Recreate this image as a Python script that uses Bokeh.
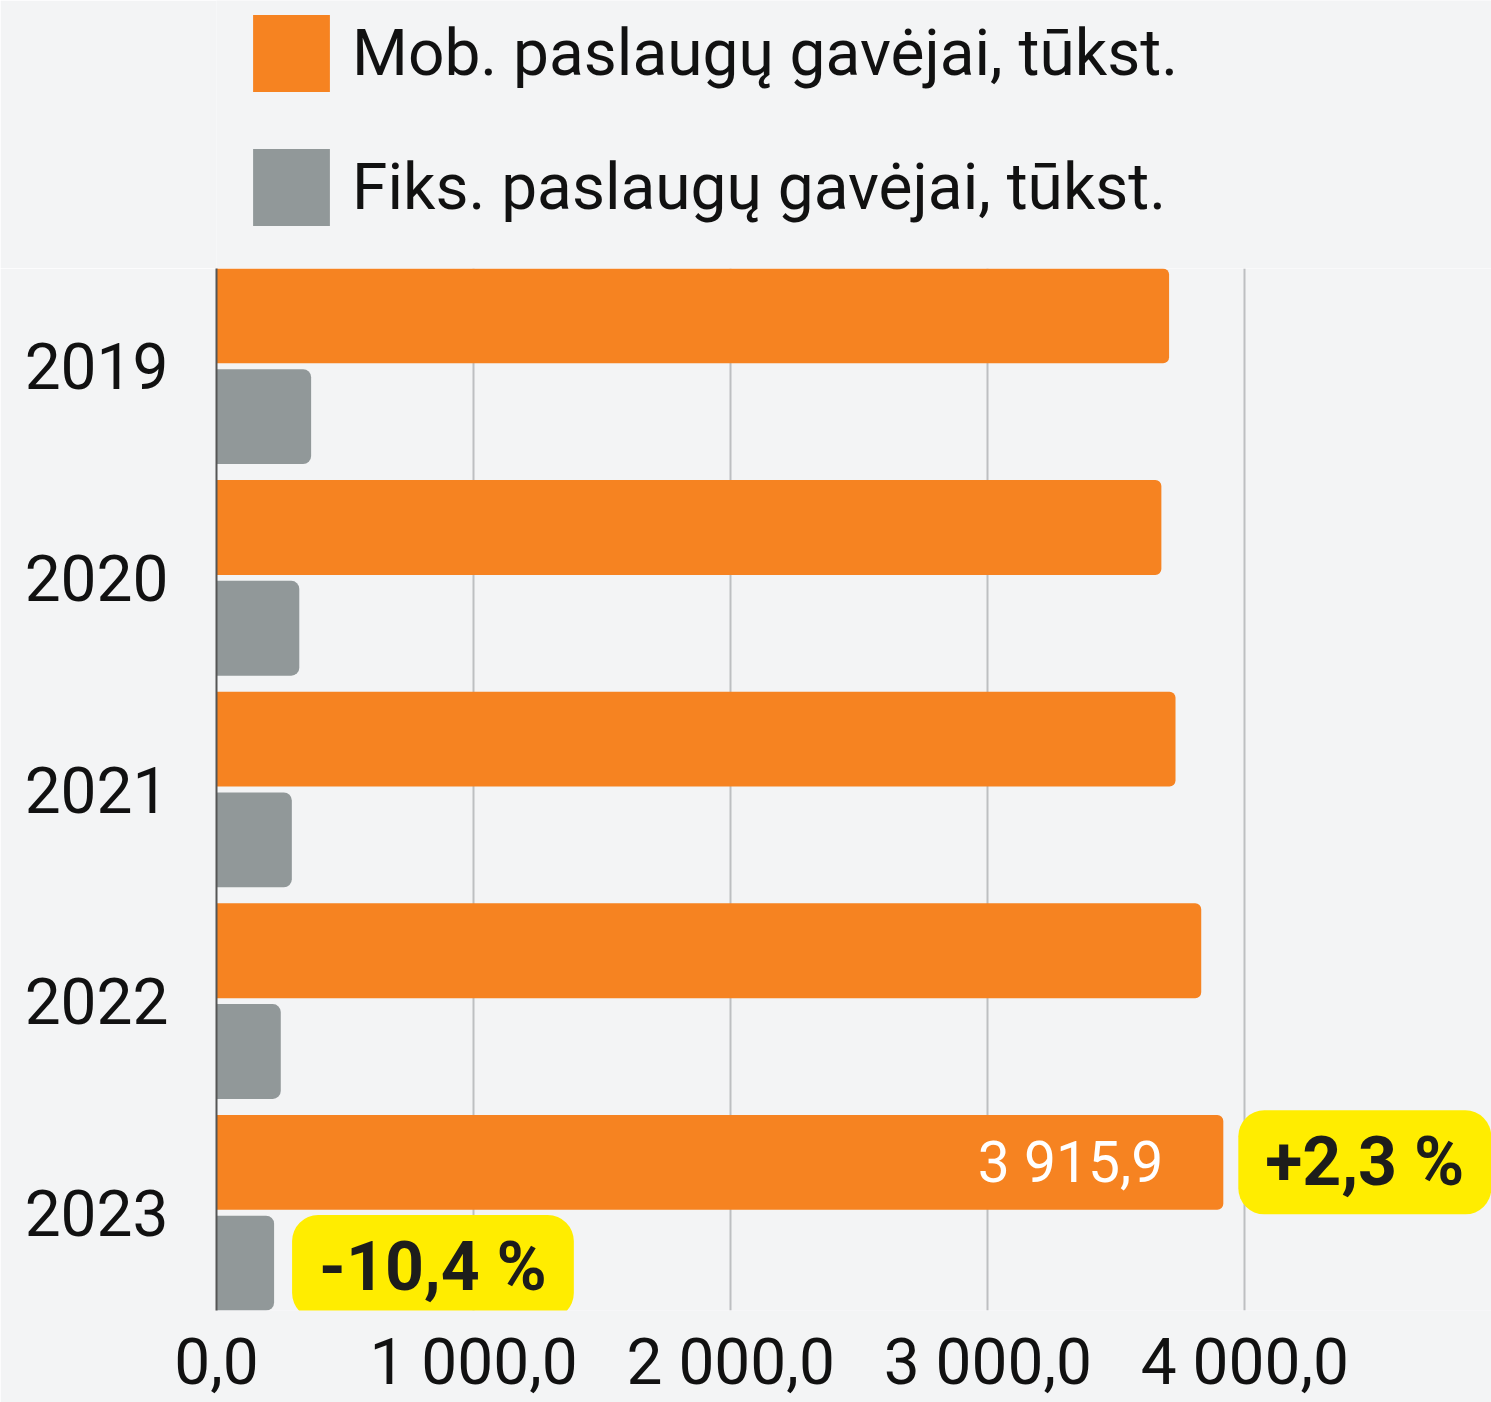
from bokeh.plotting import figure
from bokeh.layouts import column
from bokeh.models import (Range1d, FixedTicker, LinearAxis, Legend, LegendItem,
                          Label, ColumnDataSource)
from bokeh.embed import file_html
from bokeh.resources import INLINE

# ---- data ----
years = ["2019", "2020", "2021", "2022", "2023"]
mobile = [3705, 3675, 3730, 3830, 3915.9]
fixed = [368, 322, 293, 250, 224]
x_ticks = [0, 1000, 2000, 3000, 4000]
x_tick_labels = ["0,0", "1 000,0", "2 000,0", "3 000,0", "4 000,0"]
mobile_label = "Mob. paslaugų gavėjai, tūkst."
fixed_label = "Fiks. paslaugų gavėjai, tūkst."
last_value_label = "3 915,9"
mobile_change = "+2,3 %"
fixed_change = "-10,4 %"

ORANGE = "#F68321"
GREY = "#919899"
YELLOW = "#FFED00"
BG = "#F3F4F5"
FONT = "Roboto"

idx = list(range(len(years)))
off = 0.238
bar_h = 0.448
src = ColumnDataSource(dict(
    y_mob=[i - off for i in idx],
    y_fix=[i + off for i in idx],
    mobile=mobile,
    fixed=fixed,
))

W = 1491
HEAD_H = 268
MAIN_H = 1402 - HEAD_H

# ---- header with legend ----
head = figure(width=W, height=HEAD_H, output_backend="svg", toolbar_location=None,
              x_range=Range1d(0, 1), y_range=Range1d(0, 1),
              x_axis_location=None, y_axis_location=None,
              min_border=0)
head.background_fill_color = BG
head.border_fill_color = BG
head.outline_line_color = None
for g in head.grid:
    g.grid_line_color = None
h_mob = head.hbar(y="y_mob", right="mobile", left=0, height=bar_h, source=src,
                  fill_color=ORANGE, line_color=None, border_radius=2, visible=False)
h_fix = head.hbar(y="y_fix", right="fixed", left=0, height=bar_h, source=src,
                  fill_color=GREY, line_color=None, border_radius=2, visible=False)
legend = Legend(items=[LegendItem(label=mobile_label, renderers=[h_mob]),
                       LegendItem(label=fixed_label, renderers=[h_fix])],
                location=(27, 33), orientation="vertical")
legend.glyph_width = 96
legend.glyph_height = 96
legend.label_height = 96
legend.spacing = 38
legend.label_standoff = 13
legend.padding = 0
legend.margin = 0
legend.border_line_color = None
legend.background_fill_alpha = 0
legend.inactive_fill_alpha = 0
legend.label_text_font = FONT
legend.label_text_font_size = "64px"
legend.label_text_color = "#111111"
head.add_layout(legend, "center")

# ---- main chart ----
p = figure(width=W, height=MAIN_H, output_backend="svg", toolbar_location=None,
           x_range=Range1d(0, 4959), y_range=Range1d(4.462, -0.462),
           x_axis_location=None, y_axis_location=None,
           min_border_left=216, min_border_right=0, min_border_top=0,
           min_border_bottom=92)
p.background_fill_color = BG
p.border_fill_color = BG
p.outline_line_color = None

xaxis = LinearAxis(ticker=FixedTicker(ticks=x_ticks),
                   major_label_overrides={t: l for t, l in zip(x_ticks, x_tick_labels)})
xaxis.axis_line_color = None
xaxis.major_tick_line_color = None
xaxis.minor_tick_line_color = None
xaxis.major_tick_out = 0
xaxis.major_tick_in = 0
xaxis.major_label_standoff = 14
xaxis.major_label_text_font = FONT
xaxis.major_label_text_font_size = "64px"
xaxis.major_label_text_color = "#111111"
p.add_layout(xaxis, "below")

yaxis = LinearAxis(ticker=FixedTicker(ticks=idx),
                   major_label_overrides={i: y for i, y in zip(idx, years)})
yaxis.axis_line_color = "#555555"
yaxis.axis_line_width = 2
yaxis.major_tick_line_color = None
yaxis.minor_tick_line_color = None
yaxis.major_tick_out = 0
yaxis.major_tick_in = 0
yaxis.major_label_standoff = 48
yaxis.major_label_text_font = FONT
yaxis.major_label_text_font_size = "64px"
yaxis.major_label_text_color = "#111111"
p.add_layout(yaxis, "left")

for g in p.grid:
    if g.dimension == 0:
        g.ticker = FixedTicker(ticks=x_ticks[1:])
        g.grid_line_color = "#BDBFC1"
        g.grid_line_width = 2
    else:
        g.grid_line_color = None

p.hbar(y="y_mob", right="mobile", left=0, height=bar_h, source=src,
       fill_color=ORANGE, line_color=None, border_radius=(0, 6, 6, 0))
p.hbar(y="y_fix", right="fixed", left=0, height=bar_h, source=src,
       fill_color=GREY, line_color=None, border_radius=(0, 8, 8, 0))

n = len(years) - 1
p.add_layout(Label(x=mobile[n], y=n - off, text=last_value_label,
                   x_offset=-60, text_align="right", text_baseline="middle",
                   text_font=FONT, text_font_size="57px", text_color="white"))
p.add_layout(Label(x=mobile[n], y=n - off, text=mobile_change,
                   x_offset=15, text_align="left", text_baseline="middle",
                   text_font=FONT, text_font_size="68px", text_font_style="bold",
                   text_color="#1D1D1B",
                   background_fill_color=YELLOW,
                   padding=dict(left=27, right=27, top=12, bottom=12),
                   border_radius=26))
p.add_layout(Label(x=fixed[n], y=n + off, text=fixed_change,
                   x_offset=18, y_offset=-4, text_align="left", text_baseline="middle",
                   text_font=FONT, text_font_size="68px", text_font_style="bold",
                   text_color="#1D1D1B",
                   background_fill_color=YELLOW,
                   padding=dict(left=27, right=27, top=12, bottom=12),
                   border_radius=26))

layout = column(head, p, spacing=0)
open("out.html", "w").write(file_html(layout, INLINE))
